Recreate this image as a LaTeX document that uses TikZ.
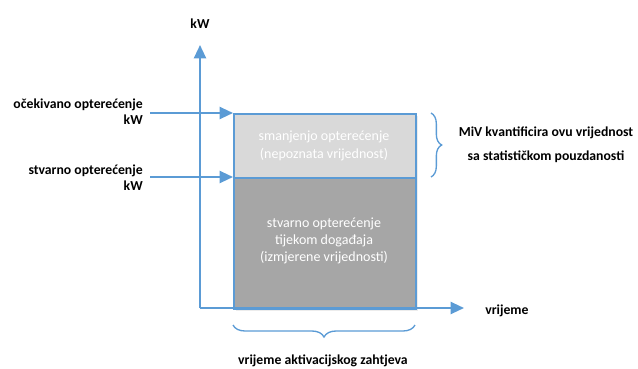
\documentclass[tikz,border=0pt]{standalone}
\usepackage{fontspec}
\setmainfont{Carlito}
\usetikzlibrary{arrows.meta,decorations.pathreplacing,shadows}
\definecolor{axblue}{HTML}{5B9BD5}
\definecolor{lgray}{HTML}{D9D9D9}
\definecolor{dgray}{HTML}{A6A6A6}
\begin{document}
\begin{tikzpicture}[x=0.75pt,y=-0.75pt,
  axis/.style={draw=axblue,line width=1.6pt,-{Triangle[length=10pt,width=9pt]}},
  lbl/.style={font=\fontsize{10.3}{12}\selectfont\bfseries,text=black,inner sep=0pt},
  boxtxt/.style={font=\fontsize{10.5}{13}\selectfont,text=white,align=center,inner sep=0pt},
  brc/.style={draw=axblue,line width=1pt,decorate}]
\useasboundingbox (0,0) rectangle (638,368);
% boxes
\fill[black!15,opacity=0.5] (236,116) rectangle (418,311);
\node[draw=axblue,line width=1.5pt,fill=lgray,minimum width=182*0.75pt,minimum height=64*0.75pt,anchor=north west,inner sep=0pt] (upper) at (233,113) {};
\node[draw=axblue,line width=1.5pt,fill=dgray,minimum width=182*0.75pt,minimum height=131*0.75pt,anchor=north west,inner sep=0pt] (lower) at (233,177) {};
\node[boxtxt] (ut) at (324,146) {smanjenjo opterećenje\\(nepoznata vrijednost)};
\node[boxtxt] (lt) at (324,241) {stvarno opterećenje\\tijekom događaja\\(izmjerene vrijednosti)};
% axes
\coordinate (o) at (200,308);
\coordinate (ytop) at (200,45);
\coordinate (xend) at (464,308);
\draw[axis] (o) -- (ytop);
\draw[axis] (o) -- (xend);
% arrows to box
\coordinate (a1) at (150,113);
\coordinate (a2) at (150,177);
\draw[axis] (a1) -- (upper.north west);
\draw[axis] (a2) -- (lower.north west);
% labels
\node[lbl] (kw) at (200,24) {kW};
\node[lbl,align=right,anchor=east] (l1) at (143,112) {očekivano opterećenje\\kW};
\node[lbl,align=right,anchor=east] (l2) at (143,178) {stvarno opterećenje\\kW};
\node[lbl,anchor=west] (vr) at (485,311) {vrijeme};
% braces
\coordinate (b1) at (431,113);
\coordinate (b2) at (431,177);
\draw[brc,decoration={brace,amplitude=8pt}] (b1) -- (b2);
\node[lbl,align=center,font=\fontsize{10.3}{18}\selectfont\bfseries] (miv) at (546,145) {MiV kvantificira ovu vrijednost\\sa statističkom pouzdanosti};
\coordinate (c1) at (233,325);
\coordinate (c2) at (415,325);
\draw[brc,decoration={brace,amplitude=9pt}] (c2) -- (c1);
\node[lbl] (vaz) at (323,361) {vrijeme aktivacijskog zahtjeva};
\end{tikzpicture}
\end{document}
